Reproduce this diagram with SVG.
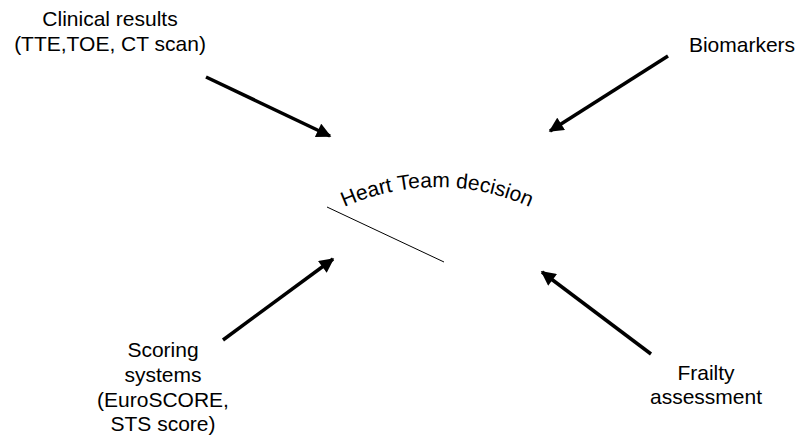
<svg xmlns="http://www.w3.org/2000/svg" xmlns:xlink="http://www.w3.org/1999/xlink" width="797" height="439" viewBox="0 0 797 439">
<style>
text{font-family:"Liberation Sans",Arial,sans-serif;font-size:21px;fill:#000;}
.lbl{text-anchor:middle;}
.arr{stroke:#000;stroke-width:3.5;fill:none;marker-end:url(#ah);}
</style>
<defs>
<marker id="ah" viewBox="0 0 10 10" refX="9" refY="5" markerWidth="4.4" markerHeight="4.2" orient="auto" markerUnits="strokeWidth">
<path d="M0,0 L10,5 L0,10 z" fill="#000"/>
</marker>
<path id="arc" d="M 307.4 228 A 226 226 0 0 1 566.6 228"/>
</defs>
<rect width="797" height="439" fill="#fff"/>
<g id="connectors">
<line class="arr" x1="206" y1="77" x2="330" y2="136"/>
<line class="arr" x1="668" y1="56" x2="550" y2="131"/>
<line class="arr" x1="223" y1="340" x2="333" y2="259"/>
<line class="arr" x1="651" y1="354" x2="542" y2="272"/>
<line x1="327" y1="207" x2="444" y2="262" stroke="#000" stroke-width="1"/>
</g>
<g id="center">
<text><textPath xlink:href="#arc" startOffset="50%" text-anchor="middle">Heart Team decision</textPath></text>
</g>
<g id="clinical">
<text class="lbl" x="110" y="26">Clinical results</text>
<text class="lbl" x="110" y="51">(TTE,TOE, CT scan)</text>
</g>
<g id="biomarkers">
<text class="lbl" x="742" y="52">Biomarkers</text>
</g>
<g id="scoring">
<text class="lbl" x="163" y="357">Scoring</text>
<text class="lbl" x="163" y="382">systems</text>
<text class="lbl" x="163" y="407">(EuroSCORE,</text>
<text class="lbl" x="163" y="431">STS score)</text>
</g>
<g id="frailty">
<text class="lbl" x="706" y="380">Frailty</text>
<text class="lbl" x="706" y="404">assessment</text>
</g>
</svg>
